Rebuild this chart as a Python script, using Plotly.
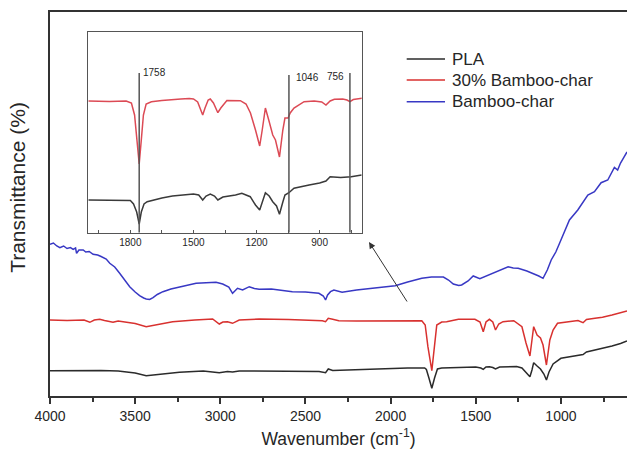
import plotly.graph_objects as go

# ---------------- main spectra (wavenumber, relative transmittance) ----------------
pla_wn = [4000, 3900, 3800, 3700, 3600, 3500, 3435, 3350, 3240, 3100, 3006, 2958, 2928, 2889, 2772,
          2600, 2420, 2382, 2366, 2340, 2200, 2012, 1900, 1800, 1790, 1775, 1758, 1742, 1725, 1700,
          1600, 1500, 1470, 1456, 1440, 1420, 1400, 1384, 1360, 1300, 1260, 1229, 1205, 1182, 1170,
          1160, 1140, 1120, 1100, 1085, 1070, 1060, 1046, 1000, 950, 900, 870, 850, 800, 756, 700,
          650, 612]
pla_px = [370.7, 370.5, 371, 370.5, 371, 373, 375.7, 374, 372.3, 371, 372.7, 371.5, 372, 371, 371,
          371, 371.5, 372.7, 369, 370.5, 369.5, 368.3, 368, 368, 369.5, 378, 388.3, 378, 369, 368,
          367.3, 367, 368, 369.3, 367, 366.7, 367.5, 369, 367, 366.7, 366.5, 368, 372, 376.7, 370,
          362.7, 366, 369, 374, 380, 372, 368, 364, 358.3, 357, 355, 354.5, 352, 350, 349, 346,
          343.5, 341]
pla_t = [400 - v for v in pla_px]

bc30_wn = [4000, 3900, 3800, 3766, 3740, 3708, 3680, 3630, 3600, 3500, 3435, 3350, 3280, 3150, 3045,
           3006, 2985, 2958, 2928, 2889, 2772, 2600, 2401, 2382, 2366, 2340, 2304, 2200, 2070, 1900,
           1817, 1797, 1781, 1758, 1745, 1729, 1700, 1671, 1602, 1505, 1475, 1456, 1440, 1420, 1400,
           1384, 1365, 1340, 1277, 1229, 1205, 1182, 1170, 1160, 1140, 1120, 1105, 1085, 1065, 1046,
           1020, 950, 900, 870, 850, 800, 756, 700, 650, 612]
bc30_px = [320, 320.5, 320, 322.3, 320, 319.3, 320.5, 322.3, 321, 323.5, 326.7, 324, 321.7, 320, 319,
           324, 322, 321.7, 323.3, 320, 319, 319.5, 320.7, 321.7, 318.3, 319.3, 320.7, 321, 321, 320.7,
           320.7, 325, 346.7, 370.7, 346.7, 325, 322, 321.7, 319.3, 319.3, 322, 331.7, 322, 319.3, 322,
           330, 324, 321.7, 320.7, 326.7, 343, 356, 340, 326.7, 335, 338, 345, 365, 340, 330,
           323.3, 321.7, 320.5, 322.7, 319.5, 318.3, 317.3, 315, 313, 311]
bc30_t = [400 - v for v in bc30_px]

bc_wn = [4000, 3980, 3960, 3942, 3920, 3900, 3880, 3864, 3850, 3844, 3830, 3805, 3790, 3770, 3747,
         3720, 3700, 3688, 3670, 3649, 3620, 3591, 3560, 3532, 3500, 3474, 3450, 3435, 3415, 3395,
         3370, 3337, 3290, 3240, 3200, 3142, 3080, 3025, 2986, 2950, 2928, 2910, 2899, 2869, 2830,
         2800, 2772, 2700, 2577, 2500, 2421, 2395, 2382, 2370, 2353, 2333, 2285, 2200, 2100, 2012,
         1973, 1900, 1817, 1760, 1729, 1690, 1660, 1632, 1600, 1583, 1545, 1515, 1476, 1440, 1408,
         1350, 1310, 1280, 1251, 1200, 1164, 1130, 1105, 1080, 1057, 1030, 1008, 980, 950, 901,
         870, 842, 803, 780, 764, 725, 700, 686, 667, 650, 628, 612]
bc_px = [244.3, 243, 246, 247.7, 246, 248.5, 247.5, 249.3, 248, 253.3, 250, 250, 252, 251.5, 254.3,
         255, 256.5, 257.7, 259, 263.3, 267, 273.3, 280, 286.7, 292, 295.7, 298, 299, 299.5, 297.7,
         294.5, 291.7, 289, 286.7, 285.5, 283.3, 282.7, 282.3, 284, 287, 293.3, 290, 288.3, 290, 286.7,
         288.5, 289.3, 289, 291.7, 292, 293.3, 296, 300, 295, 291.7, 290, 292.3, 290, 288.3, 286.7,
         285.7, 282, 278.3, 277, 276.7, 277, 280, 284, 285.5, 285, 281, 276, 278.7, 276, 274,
         270, 266.7, 268, 268.3, 271, 273.3, 276, 278.3, 270, 260, 252, 243.3, 232, 220, 210,
         202, 195, 191.7, 186, 182.7, 180, 172, 167.3, 170, 163, 156.7, 152]
bc_t = [400 - v for v in bc_px]

# ---------------- inset (2000-700 cm-1) ----------------
in_red_wn = [2000, 1900, 1820, 1795, 1780, 1770, 1758, 1748, 1738, 1725, 1700, 1650, 1600, 1560, 1520,
             1500, 1480, 1465, 1456, 1445, 1430, 1420, 1405, 1384, 1370, 1341, 1300, 1277, 1250, 1229,
             1205, 1185, 1173, 1158, 1142, 1123, 1110, 1091, 1075, 1065, 1050, 1040, 1022, 974, 926,
             890, 870, 850, 830, 790, 770, 756, 740, 697]
in_red_px = [101, 101.5, 101, 103, 115, 140, 164, 140, 115, 104, 101.7, 100.5, 99.3, 99, 98.5,
             99, 102, 110, 115, 108, 100, 99, 103, 112.7, 108, 100.5, 101, 100.7, 104, 113,
             130, 146, 130, 108, 120, 135, 140, 157, 130, 118, 118, 113, 108, 101.7, 101,
             102, 105, 101, 99.3, 99, 100, 101.7, 99.5, 98.3]
in_red_t = [250 - v for v in in_red_px]

in_pla_wn = [2000, 1900, 1800, 1785, 1770, 1758, 1748, 1735, 1720, 1650, 1600, 1500, 1475, 1456, 1440,
             1420, 1400, 1384, 1360, 1300, 1270, 1230, 1205, 1185, 1170, 1158, 1140, 1123, 1105, 1091,
             1075, 1065, 1046, 1022, 950, 900, 870, 850, 800, 750, 700]
in_pla_px = [200, 200, 200.5, 204, 212, 224, 212, 204, 201.7, 198, 196, 194, 195, 200, 196,
             194, 196, 200, 197, 195, 193.3, 196.7, 205, 210, 200, 192.7, 196, 201.7, 206, 214.3,
             202, 195, 192.7, 188.3, 185, 183, 181, 176.7, 177.5, 176.7, 175]
in_pla_t = [250 - v for v in in_pla_px]

peak_marks = [1758, 1046, 756]
peak_labels = ["1758", "1046", "756"]

series_names = ["PLA", "30% Bamboo-char", "Bamboo-char"]
colors = ["#2b2b2b", "#d8312f", "#3838c4"]

FONT = "Arial, 'Liberation Sans', sans-serif"
TXT = "#262626"

fig = go.Figure()
for wn, t, name, c in zip([pla_wn, bc30_wn, bc_wn], [pla_t, bc30_t, bc_t], series_names, colors):
    fig.add_trace(go.Scatter(x=wn, y=t, mode="lines", name=name, showlegend=False,
                             line=dict(color=c, width=1.5), xaxis="x", yaxis="y"))

fig.add_trace(go.Scatter(x=in_red_wn, y=in_red_t, mode="lines", showlegend=False,
                         line=dict(color="#dc4a55", width=1.5), xaxis="x2", yaxis="y2"))
fig.add_trace(go.Scatter(x=in_pla_wn, y=in_pla_t, mode="lines", showlegend=False,
                         line=dict(color="#3a3a3a", width=1.5), xaxis="x2", yaxis="y2"))

shapes = []
line_tops = [177, 175, 177]
for wn, top in zip(peak_marks, line_tops):
    shapes.append(dict(type="line", xref="x2", yref="y2", x0=wn, x1=wn, y0=17.5, y1=top,
                       line=dict(color="#555555", width=1.5)))

annotations = [
    dict(text=peak_labels[0], x=peak_marks[0], y=177, xref="x2", yref="y2", xanchor="left", yanchor="middle",
         xshift=2, showarrow=False, font=dict(size=10, color=TXT, family=FONT)),
    dict(text=peak_labels[1], x=peak_marks[1], y=172, xref="x2", yref="y2", xanchor="left", yanchor="middle",
         xshift=5, showarrow=False, font=dict(size=10, color=TXT, family=FONT)),
    dict(text=peak_labels[2], x=peak_marks[2], y=173, xref="x2", yref="y2", xanchor="right", yanchor="middle",
         xshift=-4, showarrow=False, font=dict(size=10, color=TXT, family=FONT)),
    dict(text="Transmittance (%)", x=0, y=0.542, xref="paper", yref="paper", textangle=-90,
         xanchor="center", yanchor="middle", xshift=-32, showarrow=False,
         font=dict(size=21, color=TXT, family=FONT)),
    dict(x=2127, y=158, xref="x", yref="y", ax=39, ay=61, showarrow=True, arrowhead=2,
         arrowsize=1.3, arrowwidth=1, arrowcolor="#333333", text=""),
]

# legend drawn as line samples + labels (paper coordinates)
leg_rows = [0.8776, 0.8229, 0.7664]
for name, c, yy in zip(series_names, colors, leg_rows):
    shapes.append(dict(type="line", xref="paper", yref="paper", x0=0.6182, x1=0.6846, y0=yy, y1=yy,
                       line=dict(color=c, width=1.5)))
    annotations.append(dict(text=name, x=0.6932, y=yy, xref="paper", yref="paper", xanchor="left",
                            yanchor="middle", showarrow=False, font=dict(size=17, color=TXT, family=FONT)))

fig.update_layout(
    template="none",
    width=627, height=455,
    margin=dict(l=50, r=0, t=12, b=59, pad=0, autoexpand=False),
    paper_bgcolor="white", plot_bgcolor="white",
    font=dict(family=FONT, color=TXT, size=14),
    showlegend=False,
    xaxis=dict(range=[4000, 612], domain=[0, 1], automargin=False, showline=True, linecolor="#333333",
               linewidth=1.5, mirror=True, ticks="outside", ticklen=6, tickwidth=1.5, tickcolor="#333333",
               tickvals=[4000, 3500, 3000, 2500, 2000, 1500, 1000],
               minor=dict(tickvals=[3750, 3250, 2750, 2250, 1750, 1250, 750], ticks="outside",
                          ticklen=4, tickwidth=1.5, tickcolor="#333333"),
               showgrid=False, zeroline=False, tickfont=dict(size=14, color=TXT),
               title=dict(text="Wavenumber (cm<sup>-1</sup>)", font=dict(size=17.5, color=TXT), standoff=10)),
    yaxis=dict(range=[4, 388], domain=[0, 1], automargin=False, showline=True, linecolor="#333333",
               linewidth=1.5, showticklabels=False, ticks="", showgrid=False, zeroline=False),
    xaxis2=dict(range=[2000, 700], domain=[0.0664, 0.5402], anchor="y2", automargin=False, showline=True,
                linecolor="#555555", linewidth=1.2, mirror=True, ticks="inside", ticklen=3,
                tickcolor="#555555", tickvals=[1800, 1500, 1200, 900],
                minor=dict(tickvals=[1950, 1650, 1350, 1050, 750], ticks="inside", ticklen=3,
                           tickcolor="#555555"),
                showgrid=False, zeroline=False, tickfont=dict(size=10, color=TXT)),
    yaxis2=dict(range=[16.7, 218.3], domain=[0.4237, 0.9487], anchor="x2", automargin=False, showline=True,
                linecolor="#555555", linewidth=1.2, mirror=True, showticklabels=False, ticks="",
                showgrid=False, zeroline=False),
    shapes=shapes,
    annotations=annotations,
)

# remove the default 8px page margin so the 627x455 figure fills the window exactly
fig.write_html("out.html", config={"displayModeBar": False},
               post_script="document.body.style.margin='0';document.body.style.overflow='hidden';")
